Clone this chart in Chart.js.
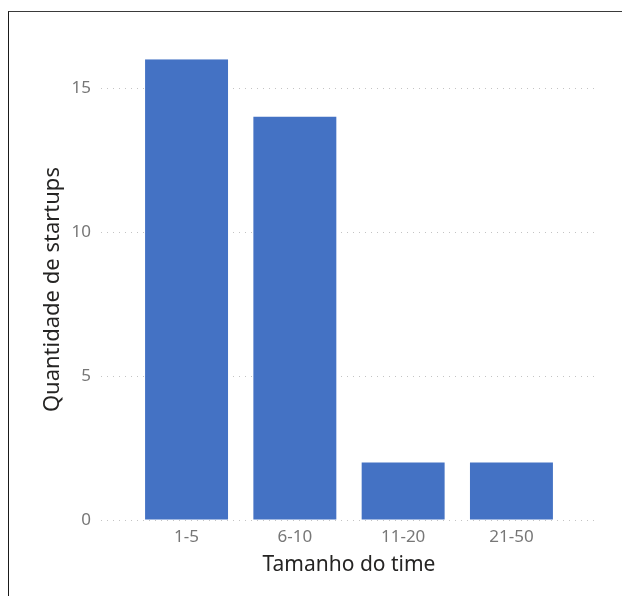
<!DOCTYPE html>
<html>
<head>
<meta charset="utf-8">
<script src="https://cdn.jsdelivr.net/npm/chart.js@4.4.1/dist/chart.umd.min.js"></script>
<style>
  html, body { margin: 0; padding: 0; background: #ffffff; }
  body { width: 622px; height: 596px; position: relative; overflow: hidden; }
  #frame {
    position: absolute; left: 8px; top: 11px; right: -2px; bottom: -2px;
    border-top: 1px solid #3a3a3a; border-left: 1px solid #1a1a1a;
  }
  #wrap { position: absolute; left: 0; top: 0; width: 622px; height: 596px; }
</style>
</head>
<body>
<div id="frame"></div>
<div id="wrap"><canvas id="chart" width="622" height="596"></canvas></div>
<script>
// Team size buckets and number of startups in each
const categories = ['1-5', '6-10', '11-20', '21-50'];
const startups = [16, 14, 2, 2];
const yTicks = [0, 5, 10, 15];

const xTitle = 'Tamanho do time';
const yTitle = 'Quantidade de startups';

const FONT = "'Noto Sans', 'Open Sans', sans-serif";

new Chart(document.getElementById('chart'), {
  type: 'bar',
  data: {
    datasets: [{
      data: startups.map((v, i) => ({ x: i, y: v })),
      backgroundColor: '#4472C4',
      borderWidth: 0,
      barPercentage: 1,
      categoryPercentage: 0.766
    }]
  },
  options: {
    responsive: false,
    animation: false,
    layout: { padding: { left: 0, right: 25, top: 59.2, bottom: 0 } },
    plugins: { legend: { display: false }, tooltip: { enabled: false } },
    scales: {
      x: {
        type: 'linear',
        offset: false,
        min: -0.79,
        max: 3.79,
        afterBuildTicks: s => { s.ticks = categories.map((c, i) => ({ value: i })); },
        afterFit: s => { s.height = 76; },
        grid: { display: false, offset: false },
        border: { display: false },
        ticks: {
          callback: v => categories[v],
          color: '#777777',
          padding: -1,
          autoSkip: false,
          maxRotation: 0,
          font: { family: FONT, size: 17 }
        },
        title: {
          display: true,
          text: xTitle,
          color: '#252423',
          padding: { top: 0, bottom: 18 },
          font: { family: FONT, size: 21 }
        }
      },
      y: {
        min: 0,
        max: 16,
        afterBuildTicks: s => { s.ticks = yTicks.map(v => ({ value: v })); },
        afterFit: s => { s.width = 101; },
        grid: { color: '#c4c4c4', lineWidth: 1, drawTicks: false },
        border: { display: false, dash: [1, 5] },
        ticks: {
          color: '#777777',
          padding: 10,
          font: { family: FONT, size: 17 }
        },
        title: {
          display: true,
          text: yTitle,
          color: '#252423',
          padding: { top: 40, bottom: 0 },
          font: { family: FONT, size: 22 }
        }
      }
    }
  }
});
</script>
</body>
</html>
